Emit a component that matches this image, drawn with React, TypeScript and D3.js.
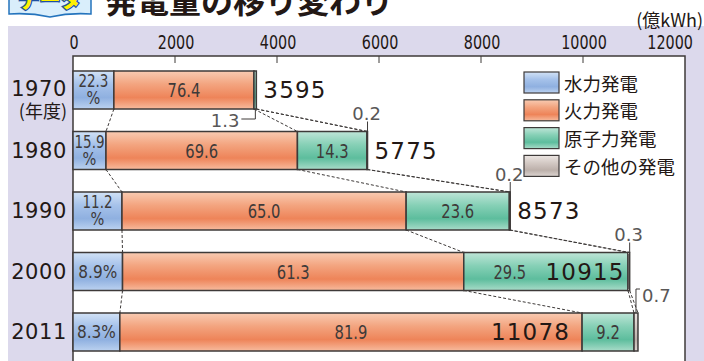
import React from 'react'
import * as d3 from 'd3'

const years = ['1970', '1980', '1990', '2000', '2011']
const totals = [3595, 5775, 8573, 10915, 11078]
// shares printed on the bars (%)
const hydroPct = [22.3, 15.9, 11.2, 8.9, 8.3]
const thermalPct = [76.4, 69.6, 65.0, 61.3, 81.9]
const nuclearPct = [1.3, 14.3, 23.6, 29.5, 9.2]
const otherPct = [0, 0.2, 0.2, 0.3, 0.7]
// shares as the segments are actually drawn (the 1980 bar in the source uses other proportions)
const hydroDrawn = [22.3, 11.2, 11.2, 8.9, 8.3]
const thermalDrawn = [76.4, 65.0, 65.0, 61.3, 81.9]
const nuclearDrawn = [1.3, 23.6, 23.6, 29.5, 9.2]
const otherDrawn = [0, 0.2, 0.2, 0.3, 0.7]
const xTicks = [0, 2000, 4000, 6000, 8000, 10000, 12000]
const legendLabels = ['水力発電', '火力発電', '原子力発電', 'その他の発電']

const W = 704
const H = 361
const INK = '#231815'
const LINE = '#3e3a39'
const COND = '"DejaVu Sans Condensed", "Roboto", sans-serif'
const SANS = '"DejaVu Sans", "Noto Sans", sans-serif'
const JP = '"Noto Sans CJK JP", "Noto Sans", sans-serif'

const fills = ['url(#gHydro)', 'url(#gThermal)', 'url(#gNuclear)', 'url(#gOther)']
const gradients = [
  { id: 'gHydro', stops: ['#d2e2f6', '#a6c2ea', '#8fb0e0', '#bcd2f0'] },
  { id: 'gThermal', stops: ['#f9cbb2', '#f3a47f', '#ee8459', '#f7bb9e'] },
  { id: 'gNuclear', stops: ['#bfe5d8', '#86d0b6', '#5dbd9d', '#a9dcc9'] },
  { id: 'gOther', stops: ['#ece6e3', '#d4cac5', '#bcb0aa', '#ddd5d1'] },
]

const x = d3.scaleLinear().domain([0, 12000]).range([73, 685])
const y = d3.scalePoint<string>().domain(years).range([90, 332])
const BAR_H = 38

// condensed text: squeezed horizontally like the print's narrow digits
const Narrow = ({ x, y, size, sx = 0.82, anchor = 'middle', fill = LINE, children }: any) => (
  <text
    transform={`translate(${x},${y}) scale(${sx},1)`}
    textAnchor={anchor}
    dominantBaseline="central"
    fontFamily={COND}
    fontSize={size}
    fill={fill}
  >
    {children}
  </text>
)

export default function App() {
  // cumulative boundaries (in 億kWh) for every bar: [0, hydro, thermal, nuclear, other]
  const bars = years.map((yr, i) => {
    const shares = [hydroDrawn[i], thermalDrawn[i], nuclearDrawn[i], otherDrawn[i]]
    const sum = d3.sum(shares)
    const cum = [0, ...d3.cumsum(shares)].map(c => (c / sum) * totals[i])
    return { yr, i, cum, cy: y(yr) as number }
  })

  const fmt = (v: number) => v.toFixed(1)

  return (
    <svg
      width={W}
      height={H}
      style={{ position: 'absolute', left: 0, top: 0, display: 'block', background: '#fff' }}
    >
      <defs>
        {gradients.map(g => (
          <linearGradient key={g.id} id={g.id} x1="0" y1="0" x2="0" y2="1">
            <stop offset="0" stopColor={g.stops[0]} />
            <stop offset="0.35" stopColor={g.stops[1]} />
            <stop offset="0.7" stopColor={g.stops[2]} />
            <stop offset="1" stopColor={g.stops[3]} />
          </linearGradient>
        ))}
      </defs>

      {/* title */}
      <path d="M9,-6 L91,-6 L91,14 Q70,12.5 50,17 Q30,12.5 9,14 Z" fill="#d9eefb" stroke="#2474bd" strokeWidth={1.5} />
      <text x={50} y={7} textAnchor="middle" fontFamily={JP} fontWeight={900} fontSize={21}
        fill="#fff100" stroke="#1d4fa0" strokeWidth={2.5} style={{ paintOrder: 'stroke' }}>データ</text>
      <text x={105} y={13} fontFamily={JP} fontWeight={700} fontSize={32} fill={INK}>発電量の移り変わり</text>

      {/* background panel */}
      <rect x={8} y={26} width={W - 8} height={H - 26} fill="#dcd9ec" />
      <rect x={x(0)} y={56} width={x(12000) - x(0)} height={H} fill="#fff" stroke={LINE} strokeWidth={1.5} />

      {/* axis */}
      {xTicks.map((t, k) => (
        <g key={t}>
          {t > 0 && t < 12000 && <line x1={x(t)} x2={x(t)} y1={56} y2={63} stroke={LINE} strokeWidth={1} />}
          {k === xTicks.length - 1 ? (
            <Narrow x={693} y={43} size={19} sx={0.84} anchor="end" fill={INK}>{t}</Narrow>
          ) : (
            <Narrow x={x(t) + 1} y={43} size={19} sx={0.84} fill={INK}>{t}</Narrow>
          )}
        </g>
      ))}
      <text x={703} y={19} textAnchor="end" dominantBaseline="central" fontFamily={JP} fontSize={18} fill={INK}>(億kWh)</text>

      {/* dashed connectors */}
      {bars.slice(0, -1).map((b, k) => {
        const n = bars[k + 1]
        return [1, 2, 3, 4].map(j => (
          <line key={`${k}-${j}`} x1={x(b.cum[j])} y1={b.cy + BAR_H / 2} x2={x(n.cum[j])} y2={n.cy - BAR_H / 2}
            stroke={LINE} strokeWidth={1} strokeDasharray="3 2" />
        ))
      })}

      {/* bars */}
      {bars.map(b => (
        <g key={b.yr}>
          {[0, 1, 2, 3].map(j => {
            const w = x(b.cum[j + 1]) - x(b.cum[j])
            if (w <= 0.01) return null
            return (
              <rect key={j} x={x(b.cum[j])} y={b.cy - BAR_H / 2} width={w} height={BAR_H}
                fill={fills[j]} stroke={LINE} strokeWidth={1.5} />
            )
          })}
        </g>
      ))}

      {/* labels inside bars */}
      {bars.map(b => {
        const i = b.i
        const hx = (x(b.cum[0]) + x(b.cum[1])) / 2
        const hl = fmt(hydroPct[i])
        const tx = (x(b.cum[1]) + x(b.cum[2])) / 2
        const nucW = x(b.cum[3]) - x(b.cum[2])
        const big = totals[i] > 10000
        const totalInGreen = big && nucW > 100
        const nx = totalInGreen ? x(b.cum[2]) + 46 : (x(b.cum[2]) + x(b.cum[3])) / 2
        return (
          <g key={b.yr}>
            {hl.length >= 4 ? (
              <>
                <Narrow x={hx} y={b.cy - 8.5} size={17} sx={0.88}>{hl}</Narrow>
                <Narrow x={hx} y={b.cy + 8.5} size={17} sx={0.95}>%</Narrow>
              </>
            ) : (
              <Narrow x={hx} y={b.cy} size={18.5} sx={0.92}>{hl}%</Narrow>
            )}
            <Narrow x={tx} y={b.cy} size={20}>{fmt(thermalPct[i])}</Narrow>
            {nucW > 20 && <Narrow x={nx} y={b.cy} size={20}>{fmt(nuclearPct[i])}</Narrow>}
            <text
              x={big ? (totalInGreen ? x(b.cum[4]) - 5 : x(b.cum[2]) - 12) : x(b.cum[4]) + 7}
              y={b.cy}
              textAnchor={big ? 'end' : 'start'}
              dominantBaseline="central"
              fontFamily={SANS}
              fontSize={23}
              letterSpacing={1.2}
              fill={INK}
            >
              {totals[i]}
            </text>
          </g>
        )
      })}

      {/* call-outs for thin segments */}
      {bars.map(b => {
        const i = b.i
        const end = x(b.cum[4])
        const top = b.cy - BAR_H / 2
        const bot = b.cy + BAR_H / 2
        if (i === 0) {
          return (
            <g key={b.yr}>
              <path d={`M${end - 1},${bot} V${bot + 10} H${end - 15}`} fill="none" stroke={LINE} strokeWidth={1} />
              <text x={end - 17} y={bot + 11} textAnchor="end" dominantBaseline="central" fontFamily={SANS} fontSize={18} fill="#595757">{fmt(nuclearPct[i])}</text>
            </g>
          )
        }
        if (i === years.length - 1) {
          return (
            <g key={b.yr}>
              <path d={`M${end - 2},${top} V${top - 24} H${end + 2}`} fill="none" stroke={LINE} strokeWidth={1} />
              <text x={end + 4} y={top - 18} textAnchor="start" dominantBaseline="central" fontFamily={SANS} fontSize={18} fill="#595757">{fmt(otherPct[i])}</text>
            </g>
          )
        }
        return (
          <g key={b.yr}>
            <line x1={end} x2={end} y1={top} y2={top - 10} stroke={LINE} strokeWidth={1} />
            <text x={end - 1} y={top - 18} textAnchor="middle" dominantBaseline="central" fontFamily={SANS} fontSize={18} fill="#595757">{fmt(otherPct[i])}</text>
          </g>
        )
      })}

      {/* year labels */}
      {bars.map(b => (
        <text key={b.yr} x={67} y={b.i === 0 ? b.cy - 1 : b.cy} textAnchor="end" dominantBaseline="central" fontFamily={SANS} fontSize={21} letterSpacing={0.6} fill={INK}>{b.yr}</text>
      ))}
      <text x={67} y={110} textAnchor="end" dominantBaseline="central" fontFamily={JP} fontSize={18} fill={INK}>(年度)</text>

      {/* legend */}
      {legendLabels.map((l, j) => {
        const ly = 72 + j * 27.8
        return (
          <g key={l}>
            <rect x={524} y={ly} width={35} height={21} fill={fills[j]} stroke={LINE} strokeWidth={1.2} />
            <text x={564} y={ly + 10.5} dominantBaseline="central" fontFamily={JP} fontSize={18.5} fill={INK}>{l}</text>
          </g>
        )
      })}
    </svg>
  )
}
